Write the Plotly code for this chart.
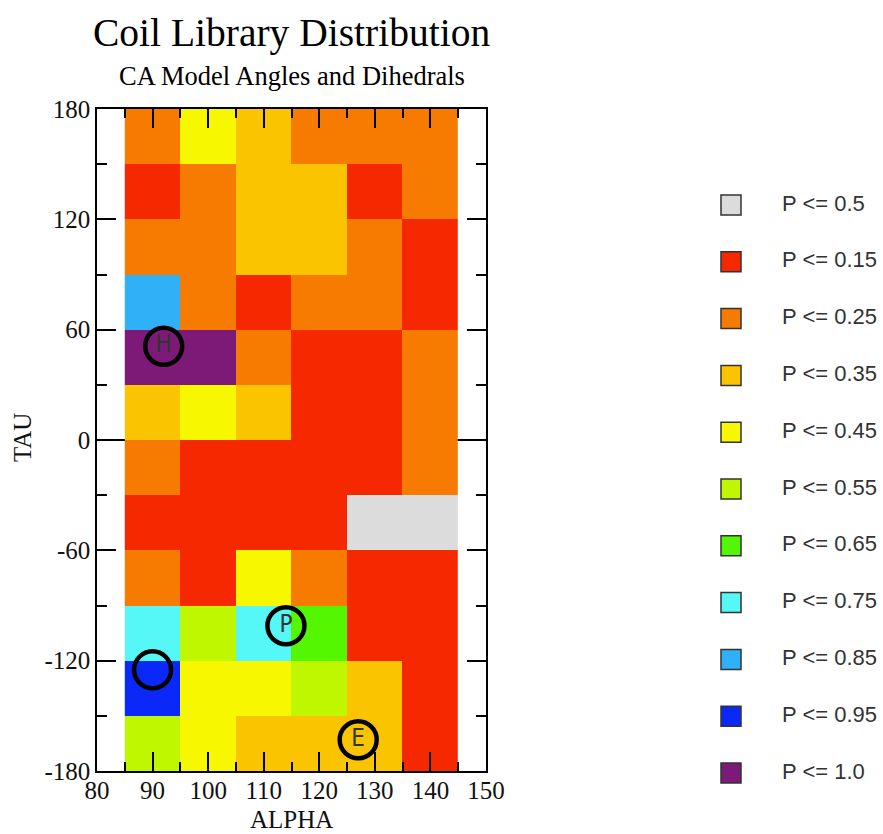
import plotly.graph_objects as go

# ---------------- data ----------------
alpha_centers = [90, 100, 110, 120, 130, 140]
tau_centers = [-165, -135, -105, -75, -45, -15, 15, 45, 75, 105, 135, 165]

levels = ["0.5", "0.15", "0.25", "0.35", "0.45", "0.55",
          "0.65", "0.75", "0.85", "0.95", "1.0"]
level_colors = ["#dcdcdc", "#f52800", "#f77b00", "#fbc400", "#f7f700",
                "#bff700", "#55f700", "#55f7f7", "#30b0f7", "#0a28f7", "#7d1a78"]

# probability class of each cell, rows from TAU=-180 (bottom) to TAU=180 (top)
grid = [
    ["0.55", "0.45", "0.35", "0.35", "0.35", "0.15"],
    ["0.95", "0.45", "0.45", "0.55", "0.35", "0.15"],
    ["0.75", "0.55", "0.75", "0.65", "0.15", "0.15"],
    ["0.25", "0.15", "0.45", "0.25", "0.15", "0.15"],
    ["0.15", "0.15", "0.15", "0.15", "0.5",  "0.5"],
    ["0.25", "0.15", "0.15", "0.15", "0.15", "0.25"],
    ["0.35", "0.45", "0.35", "0.15", "0.15", "0.25"],
    ["1.0",  "1.0",  "0.25", "0.15", "0.15", "0.25"],
    ["0.85", "0.25", "0.15", "0.25", "0.25", "0.15"],
    ["0.25", "0.25", "0.35", "0.35", "0.25", "0.15"],
    ["0.15", "0.25", "0.35", "0.35", "0.15", "0.25"],
    ["0.25", "0.45", "0.35", "0.25", "0.25", "0.25"],
]

site_labels = ["H", "P", "", "E"]
site_alpha = [92, 114, 90, 127]
site_tau = [51, -101, -125, -163]

x_range = [80, 150]
y_range = [-180, 180]
x_ticks = [80, 90, 100, 110, 120, 130, 140, 150]
y_ticks = [-180, -120, -60, 0, 60, 120, 180]
y_tick_labels = ["-180", "-120", "-60", "0", "60", "120", "180"]

# ---------------- figure ----------------
W, H = 883, 834
ML, MR, MT, MB = 97, 0, 100, 34
PW, PH = W - ML - MR, H - MT - MB
plot_left, plot_right, plot_top, plot_bottom = 97, 486, 109, 771

z = [[levels.index(v) for v in row] for row in grid]
n = len(levels)
colorscale = []
for i, c in enumerate(level_colors):
    colorscale.append([i / n, c])
    colorscale.append([(i + 1) / n, c])

serif = "Liberation Serif, Times New Roman, serif"
sans = "Liberation Sans, Arial, sans-serif"
narrow = "Liberation Sans Narrow, Arial Narrow, DejaVu Sans Condensed, Liberation Sans, sans-serif"


def px_to_paper_y(py):
    return (H - MB - py) / PH


def px_to_paper_x(px):
    return (px - ML) / PW


fig = go.Figure()
fig.add_trace(go.Heatmap(
    x=alpha_centers, y=tau_centers, z=z,
    zmin=-0.5, zmax=n - 0.5, colorscale=colorscale,
    showscale=False, hoverinfo="skip",
))
fig.add_trace(go.Scatter(
    x=site_alpha, y=site_tau, text=site_labels,
    mode="markers+text", textposition="middle center",
    textfont=dict(family=narrow, size=24, color="#333333"),
    marker=dict(symbol="circle-open", size=37, color="black",
                line=dict(width=4.5, color="black")),
    showlegend=False, hoverinfo="skip",
))

# legend drawn on its own small axes
leg_x0 = 700
leg_y0, leg_step = 205, 56.8
leg_idx = list(range(n))
leg_text = ["P <= " + v for v in levels]
fig.add_trace(go.Scatter(
    x=[31] * n, y=leg_idx, mode="markers", xaxis="x2", yaxis="y2",
    marker=dict(symbol="square", size=20, color=level_colors,
                line=dict(width=1.5, color="#333333")),
    showlegend=False, hoverinfo="skip",
))
fig.add_trace(go.Scatter(
    x=[82] * n, y=leg_idx, text=leg_text, mode="text", xaxis="x2", yaxis="y2",
    textposition="middle right", cliponaxis=False,
    textfont=dict(family=sans, size=22, color="#333333"),
    showlegend=False, hoverinfo="skip",
))

axis_common = dict(
    showline=True, linecolor="black", linewidth=1.5, mirror="allticks",
    ticks="inside", ticklen=19, tickwidth=2, tickcolor="black",
    showgrid=False, layer="above traces",
    tickfont=dict(family=serif, size=25, color="#111111"),
)

fig.update_layout(
    width=W, height=H,
    margin=dict(l=ML, r=MR, t=MT, b=MB, autoexpand=False),
    paper_bgcolor="white", plot_bgcolor="white",
    showlegend=False,
    xaxis=dict(
        range=x_range, tickvals=x_ticks, autorange=False,
        domain=[0, px_to_paper_x(plot_right)],
        minor=dict(dtick=5, tick0=80, ticks="inside", ticklen=9,
                   tickwidth=2, tickcolor="black"),
        zeroline=False,
        ticklabelstandoff=-4,
        **axis_common,
    ),
    yaxis=dict(
        range=y_range, tickvals=y_ticks, ticktext=y_tick_labels, autorange=False,
        domain=[px_to_paper_y(plot_bottom), px_to_paper_y(plot_top)],
        minor=dict(dtick=30, tick0=-180, ticks="inside", ticklen=10,
                   tickwidth=2, tickcolor="black"),
        zeroline=True, zerolinecolor="black", zerolinewidth=1.5,
        **axis_common,
    ),
    xaxis2=dict(domain=[px_to_paper_x(leg_x0), 1], range=[0, W - leg_x0],
                visible=False, fixedrange=True),
    yaxis2=dict(domain=[0, 1], anchor="x2",
                range=[(H - MB - leg_y0) / leg_step, (MT - leg_y0) / leg_step],
                visible=False, fixedrange=True),
    annotations=[
        dict(text="Coil Library Distribution", xref="x domain", yref="paper",
             x=0.5, y=px_to_paper_y(33), xanchor="center", yanchor="middle",
             showarrow=False, font=dict(family=serif, size=39.5, color="black")),
        dict(text="CA Model Angles and Dihedrals", xref="x domain", yref="paper",
             x=0.5, y=px_to_paper_y(76), xanchor="center", yanchor="middle",
             showarrow=False, font=dict(family=serif, size=26.5, color="black")),
        dict(text="ALPHA", xref="x domain", yref="paper",
             x=0.5, y=px_to_paper_y(820), xanchor="center", yanchor="middle",
             showarrow=False, font=dict(family=serif, size=25, color="#111111")),
        dict(text="TAU", xref="paper", yref="paper", textangle=-90,
             x=px_to_paper_x(22), y=px_to_paper_y(438),
             xanchor="center", yanchor="middle",
             showarrow=False, font=dict(family=serif, size=25, color="#111111")),
    ],
)

fig.write_html(
    "out.html",
    config={"displayModeBar": False},
    post_script="document.body.style.margin='0';"
                "document.documentElement.style.overflow='hidden';",
)
